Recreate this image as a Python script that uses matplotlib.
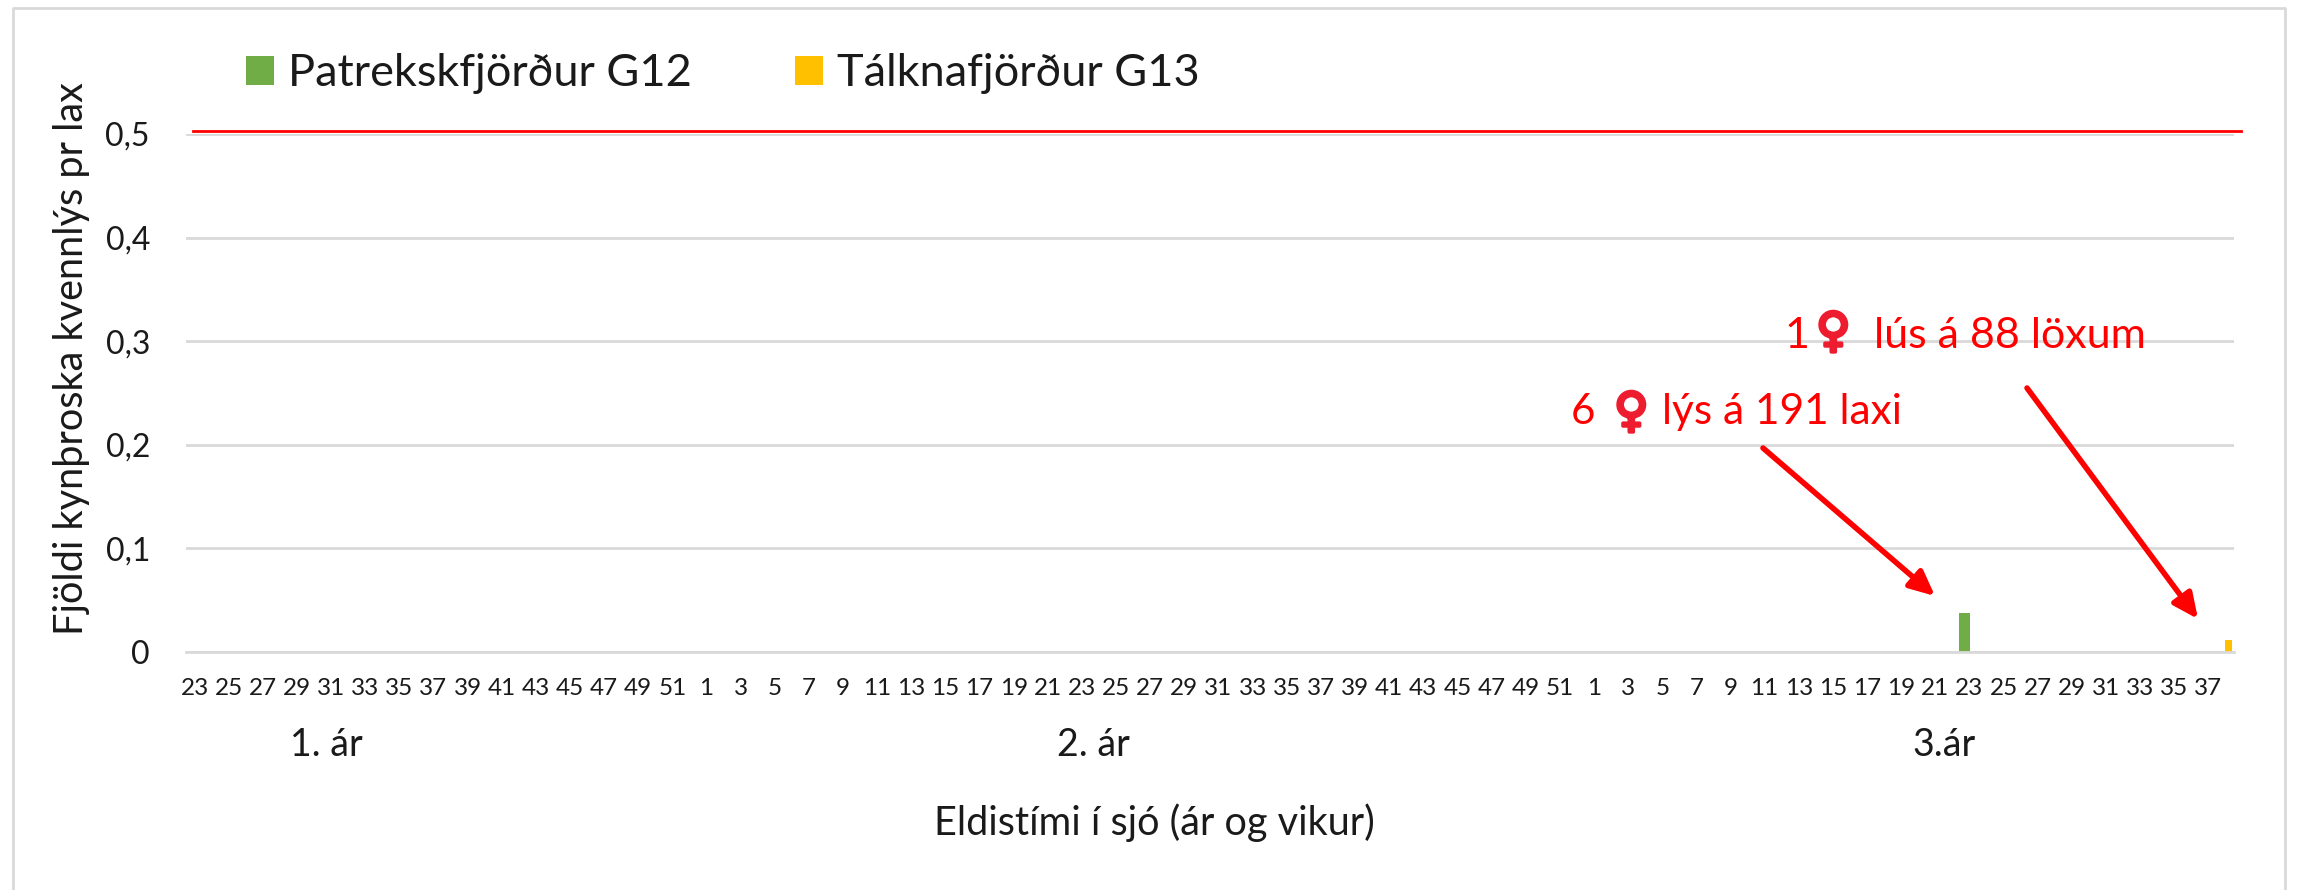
import matplotlib
matplotlib.use("Agg")
import matplotlib.pyplot as plt
import matplotlib.patheffects as pe
from matplotlib.lines import Line2D

W, H = 2298, 890

weeks = list(range(23, 53)) + list(range(1, 53)) + list(range(1, 39))
patreks = [0.0] * 120
talkna = [0.0] * 120
patreks[104] = 0.038   # 3. ar, vika 23
talkna[119] = 0.0115   # 3. ar, vika 38

limit = 0.503
yticks = [0, 0.1, 0.2, 0.3, 0.4, 0.5]
ytick_labels = ["0", "0,1", "0,2", "0,3", "0,4", "0,5"]
series_names = ["Patrekskfjörður G12", "Tálknafjörður G13"]
year_labels = ["1. ár", "2. ár", "3.ár"]

GREEN = "#70AD47"
YELLOW = "#FFC000"
GRID = "#D9D9D9"
TEXT = "#1a1a1a"
RED = "#FF0000"

plt.rcParams["font.family"] = ["Lato", "DejaVu Sans"]


def fx(px):
    return px / W


def fy(py):
    return 1 - py / H


fig = plt.figure(figsize=(W / 100, H / 100), dpi=100)
ax = fig.add_axes([fx(186), fy(652), (2234 - 186) / W, (652 - 134) / H])

x = list(range(120))
b1 = ax.bar([i - 0.3 for i in x], patreks, width=0.67, color=GREEN)
b2 = ax.bar([i + 0.2 for i in x], talkna, width=0.4, color=YELLOW)
ax.plot([-0.09, 119.9], [limit, limit], color=RED, lw=2, clip_on=False, zorder=4)

ax.set_xlim(-0.5, 119.5)
ax.set_ylim(0, 0.5)
ax.set_yticks(yticks)
ax.set_yticklabels(ytick_labels, fontsize=23, color=TEXT)
ax.set_xticks(x[::2])
ax.set_xticklabels(weeks[::2], fontsize=17.5, color=TEXT)
ax.tick_params(axis="y", length=0, pad=26)
ax.tick_params(axis="x", length=0, pad=19)
ax.grid(axis="y", color=GRID, lw=2)
ax.set_axisbelow(True)
for s in ["top", "right", "left"]:
    ax.spines[s].set_visible(False)
ax.spines["bottom"].set_color(GRID)
ax.spines["bottom"].set_linewidth(2)

leg = fig.legend([b1, b2], series_names, ncol=2, frameon=False, fontsize=32.5,
                 loc="center left", bbox_to_anchor=(fx(246), fy(74)),
                 borderpad=0, borderaxespad=0, handlelength=0.62,
                 handleheight=0.6, handletextpad=0.3, columnspacing=2.3,
                 labelcolor=TEXT)

fig.text(fx(72), fy(359), "Fjöldi kynþroska kvennlýs pr lax", rotation=90,
         fontsize=28.6, color=TEXT, ha="center", va="center")
fig.text(fx(1154), fy(823), "Eldistími í sjó (ár og vikur)", fontsize=28.5,
         color=TEXT, ha="center", va="center")
fig.text(fx(326), fy(756), year_labels[0], fontsize=27, color=TEXT, ha="center", va="baseline")
fig.text(fx(1093), fy(756), year_labels[1], fontsize=27, color=TEXT, ha="center", va="baseline")
fig.text(fx(1944), fy(756), year_labels[2], fontsize=27, color=TEXT, ha="center", va="baseline")

# rauðu merkin
venus = dict(fontsize=34, color="#ED1C2E", va="baseline", family="DejaVu Sans",
             path_effects=[pe.withStroke(linewidth=2.5, foreground="#ED1C2E")])
fig.text(fx(1784), fy(348), "1", fontsize=31, color=RED, va="baseline")
fig.text(fx(1816), fy(346), "♀", **venus)
fig.text(fx(1874), fy(348), "lús á 88 löxum", fontsize=31, color=RED, va="baseline")
fig.text(fx(1571), fy(424), "6", fontsize=30.5, color=RED, va="baseline")
fig.text(fx(1614), fy(426), "♀", **venus)
fig.text(fx(1662), fy(424), "lýs á 191 laxi", fontsize=30.5, color=RED, va="baseline")

arrow = dict(arrowstyle="-|>,head_length=1.5,head_width=0.7", color=RED, lw=4,
             shrinkA=0, shrinkB=0)
ax.annotate("", xy=(fx(1935), fy(596)), xytext=(fx(1763), fy(448)),
            xycoords="figure fraction", textcoords="figure fraction", arrowprops=arrow)
ax.annotate("", xy=(fx(2198), fy(619)), xytext=(fx(2027), fy(388)),
            xycoords="figure fraction", textcoords="figure fraction", arrowprops=arrow)

# ytri rammi
frame_x = [fx(12.5), fx(12.5), fx(2285), fx(2285)]
frame_y = [0, fy(8), fy(8), 0]
fig.add_artist(Line2D(frame_x, frame_y, color=GRID, lw=2))

fig.savefig("out.png", dpi=100)
